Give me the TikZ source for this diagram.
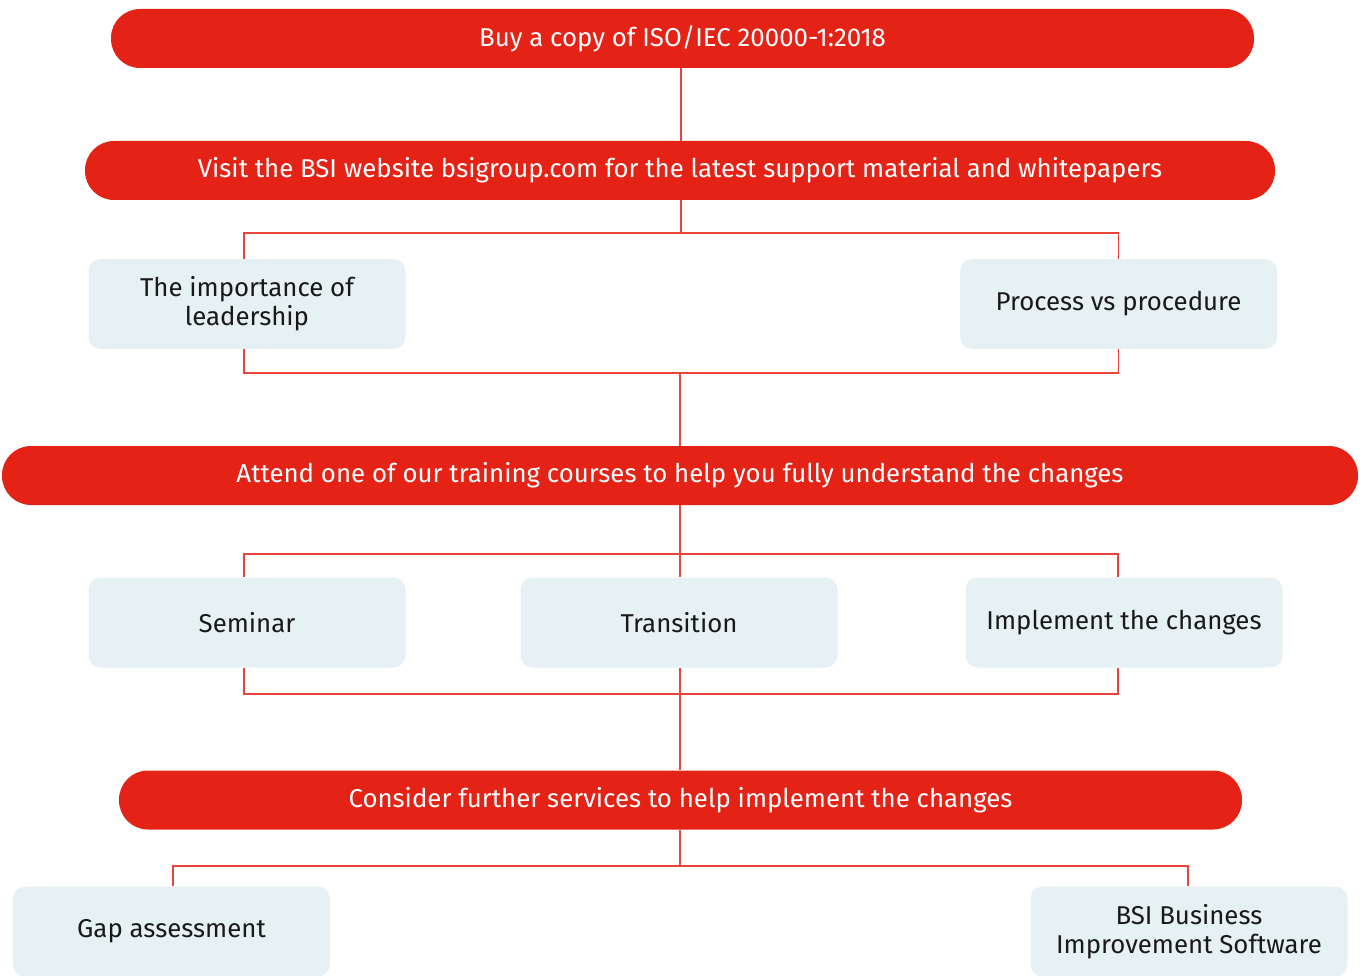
\documentclass[tikz,border=0pt]{standalone}
\usepackage{fontspec}
\setmainfont{Fira Sans}
\usetikzlibrary{positioning}
\definecolor{bsired}{HTML}{E42316}
\definecolor{boxblue}{HTML}{E6F1F3}
\tikzset{
  bar/.style={fill=bsired, text=white, rounded corners=29pt, minimum height=59pt, inner sep=0pt},
  topic/.style={fill=boxblue, text=black!90, rounded corners=12pt, minimum width=317pt, minimum height=90pt, align=center, inner sep=0pt},
  link/.style={draw=bsired!85, line width=1.1pt}
}
\begin{document}
\begin{tikzpicture}[x=1pt, y=-1pt, font=\fontsize{25.8}{29}\selectfont]
\useasboundingbox (0,0) rectangle (1365,976);
% red bars
\node[bar, minimum width=1143pt] (buy) at (682.5,38.5) {Buy a copy of ISO/IEC 20000-1:2018};
\node[bar, minimum width=1190pt] (visit) at (680,170.5) {Visit the BSI website bsigroup.com for the latest support material and whitepapers};
\node[bar, minimum width=1356pt] (attend) at (680,475.5) {Attend one of our training courses to help you fully understand the changes};
\node[bar, minimum width=1123pt] (consider) at (680.5,800) {Consider further services to help implement the changes};
% topic boxes
\node[topic] (leader) at (247,304) {The importance of\\leadership};
\node[topic] (process) at (1118.5,304) {Process vs procedure};
\node[topic] (seminar) at (247,622.5) {Seminar};
\node[topic] (transition) at (679,622.5) {Transition};
\node[topic] (implement) at (1124,622.5) {Implement the changes};
\node[topic] (gap) at (171.5,931.5) {Gap assessment};
\node[topic] (bbis) at (1189,931.5) {BSI Business\\Improvement Software};
% junctions
\coordinate (f1) at (681,233);
\coordinate (m1) at (680,373);
\coordinate (f2) at (680,554);
\coordinate (m2) at (680,694);
\coordinate (f3) at (680,866);
% connectors
\draw[link] (buy.south -| f1) -- (visit.north -| f1);
\draw[link] (visit.south -| f1) -- (f1);
\draw[link] ([xshift=-3pt]leader.north) |- (f1) -| (process.north);
\draw[link] ([xshift=-3pt]leader.south) |- (m1) -| (process.south);
\draw[link] (m1) -- (attend.north -| m1);
\draw[link] (attend.south -| f2) -- (f2);
\draw[link] ([xshift=-3pt]seminar.north) |- (f2) -| ([xshift=-6pt]implement.north);
\draw[link] (f2) -- (transition.north -| f2);
\draw[link] ([xshift=-3pt]seminar.south) |- (m2) -| ([xshift=-6pt]implement.south);
\draw[link] (transition.south -| m2) -- (m2) -- (consider.north -| m2);
\draw[link] (consider.south -| f3) -- (f3);
\draw[link] ([xshift=1.5pt]gap.north) |- (f3) -| ([xshift=-1pt]bbis.north);
\end{tikzpicture}
\end{document}
